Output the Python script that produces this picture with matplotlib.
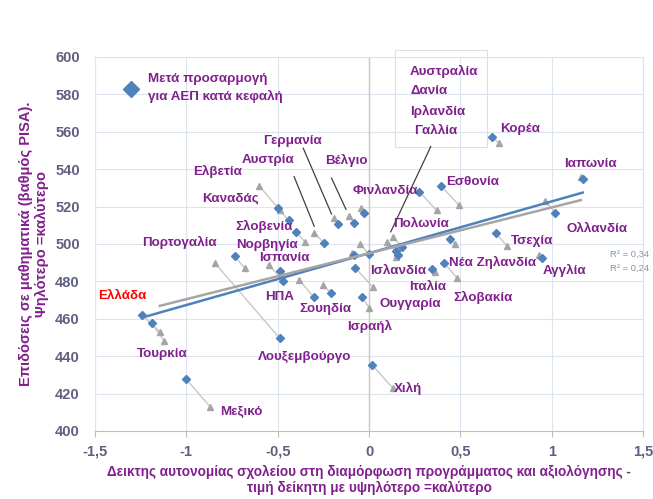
import numpy as np
import matplotlib
matplotlib.use('Agg')
import matplotlib.pyplot as plt

plt.rcParams['font.family'] = ['Liberation Sans', 'DejaVu Sans']

# Χώρες OECD (PISA 2012)
countries = ['Ελβετία', 'Καναδάς', 'Σλοβενία', 'Αυστρία', 'Γερμανία', 'Βέλγιο', 'Φινλανδία',
             'Πολωνία', 'Εσθονία', 'Κορέα', 'Ιαπωνία', 'Ολλανδία', 'Τσεχία', 'Αγγλία',
             'Νέα Ζηλανδία', 'Σλοβακία', 'Ιταλία', 'Ουγγαρία', 'Ισραήλ', 'Σουηδία', 'ΗΠΑ',
             'Ισπανία', 'Νορβηγία', 'Πορτογαλία', 'Λουξεμβούργο', 'Ελλάδα', 'Τουρκία',
             'Μεξικό', 'Χιλή', 'Αυστραλία', 'Δανία', 'Ιρλανδία', 'Γαλλία', 'Ισλανδία']

# αρχικές τιμές (γκρι τρίγωνα)
x_orig = [-0.60, -0.49, -0.35, -0.30, -0.19, -0.11, -0.045,
          0.37, 0.49, 0.71, 1.16, 0.965, 0.755, 0.93,
          0.47, 0.48, 0.36, 0.02, 0.00, -0.25, -0.385,
          -0.48, -0.55, -0.68, -0.845, -1.145, -1.12,
          -0.87, 0.13, 0.13, -0.05, 0.10, -0.095, 0.15]
y_orig = [531, 518, 501, 506, 514, 515, 519,
          518, 521, 554, 536, 523, 499, 494,
          500, 482, 485, 477, 466, 478, 481,
          484, 489, 487, 490, 453, 448,
          413, 423, 504, 500, 501, 495, 493]

# μετά την προσαρμογή για ΑΕΠ (μπλε ρόμβοι)
x_adj = [-0.50, -0.44, -0.40, -0.245, -0.17, -0.08, -0.03,
         0.275, 0.395, 0.675, 1.17, 1.02, 0.695, 0.945,
         0.445, 0.41, 0.345, -0.077, -0.04, -0.21, -0.30,
         -0.485, -0.47, -0.735, -0.49, -1.245, -1.19,
         -1.00, 0.015, 0.18, 0.00, 0.15, -0.08, 0.16]
y_adj = [519.4, 512.8, 506.6, 500.3, 510.5, 511.4, 516.7,
         528.0, 531.0, 557.1, 534.8, 516.7, 505.7, 492.6,
         502.6, 490.0, 486.4, 487.4, 471.7, 473.8, 471.4,
         485.6, 480.3, 493.4, 449.7, 462.2, 457.7,
         427.6, 435.5, 498.5, 494.5, 496.0, 494.0, 494.0]

r2_labels = ['R² = 0,34', 'R² = 0,24']

# θέσεις ετικετών (σε μονάδες αξόνων)
label_pos = {
    'Ελβετία': (-0.83, 539), 'Καναδάς': (-0.76, 524.6), 'Σλοβενία': (-0.575, 509.6),
    'Πορτογαλία': (-1.04, 501), 'Νορβηγία': (-0.56, 499.4), 'Ισπανία': (-0.465, 492.4),
    'ΗΠΑ': (-0.49, 471.5), 'Σουηδία': (-0.24, 465), 'Ισραήλ': (0.005, 456),
    'Ουγγαρία': (0.225, 467.8), 'Ισλανδία': (0.16, 485.5), 'Ιταλία': (0.32, 476.9),
    'Σλοβακία': (0.625, 471.5), 'Νέα Ζηλανδία': (0.675, 490.3), 'Αγγλία': (1.07, 486),
    'Τσεχία': (0.89, 501.5), 'Ολλανδία': (1.25, 508), 'Ιαπωνία': (1.21, 542.8),
    'Κορέα': (0.83, 561.6), 'Εσθονία': (0.565, 533.2), 'Πολωνία': (0.285, 510.7),
    'Φινλανδία': (0.09, 528.4), 'Βέλγιο': (-0.126, 544.4), 'Γερμανία': (-0.42, 555.1),
    'Αυστρία': (-0.55, 544.9), 'Ελλάδα': (-1.35, 472), 'Τουρκία': (-1.13, 441),
    'Λουξεμβούργο': (-0.35, 439.3), 'Μεξικό': (-0.70, 410.3), 'Χιλή': (0.213, 422.8),
}
box_countries = ['Αυστραλία', 'Δανία', 'Ιρλανδία', 'Γαλλία']

purple = '#80208C'
blue = '#4F81BD'
grey = '#A5A5A5'
tick_col = '#5F5F7F'
fs = 9.6

fig = plt.figure(figsize=(6.53, 4.99), dpi=100)
ax = fig.add_axes([0.1455, 0.1363, 0.8392, 0.7495])

# γραμμές σύνδεσης
for xo, yo, xa, ya in zip(x_orig, y_orig, x_adj, y_adj):
    ax.plot([xa, xo], [ya, yo], color='#C8C8C8', lw=1, zorder=2)

ax.plot(x_orig, y_orig, ls='none', marker='^', ms=5, color=grey, zorder=3)
ax.plot(x_adj, y_adj, ls='none', marker='D', ms=4, color=blue, zorder=4)

# γραμμές τάσης
for xs, ys, col in [(x_adj, y_adj, blue), (x_orig, y_orig, grey)]:
    xs = np.array(xs)
    k, b = np.polyfit(xs, ys, 1)
    xx = np.array([xs.min(), xs.max()])
    ax.plot(xx, k * xx + b, color=col, lw=1.8, zorder=5)

ax.text(1.535, 494.5, r2_labels[0], color='#8497B0', fontsize=6.8, ha='right', va='center')
ax.text(1.535, 487.0, r2_labels[1], color='#909090', fontsize=6.8, ha='right', va='center')

# ετικέτες χωρών
for name, (lx, ly) in label_pos.items():
    col = 'red' if name == 'Ελλάδα' else purple
    ax.text(lx, ly, name, color=col, fontsize=fs, fontweight='bold', ha='center', va='center',
            zorder=6)

# πλαίσιο με τις τέσσερις χώρες
ax.add_patch(plt.Rectangle((0.142, 551.9), 0.504, 52.0, fill=False, ec='#E0E0E0', lw=0.8,
                           clip_on=False, zorder=1))
for i, name in enumerate(box_countries):
    ax.text(0.225 + (0.02 if i == 3 else 0), 592.1 - i * 10.5, name, color=purple, fontsize=fs,
            fontweight='bold', ha='left', va='center')

# δείκτες ετικετών
pointers = [((-0.41, 536), (-0.30, 509.5)),
            ((-0.36, 551.2), (-0.205, 516)),
            ((-0.205, 535.2), (-0.126, 518.5)),
            ((0.338, 552.1), (0.119, 506.5))]
for (x0, y0), (x1, y1) in pointers:
    ax.plot([x0, x1], [y0, y1], color='#404040', lw=0.9, zorder=2)

# υπόμνημα
ax.plot([-1.303], [583], ls='none', marker='D', ms=8.5, color=blue, zorder=6)
ax.text(-1.21, 583.3, 'Μετά προσαρμογή\nγια ΑΕΠ κατά κεφαλή', color=purple, fontsize=fs,
        fontweight='bold', ha='left', va='center', linespacing=1.55)

ax.set_xlim(-1.5, 1.5)
ax.set_ylim(400, 600)
ax.set_xticks(np.arange(-1.5, 1.51, 0.5))
ax.set_xticklabels(['-1,5', '-1', '-0,5', '0', '0,5', '1', '1,5'])
ax.set_yticks(np.arange(400, 601, 20))
ax.grid(True, color='#DDE4F0', lw=0.8, zorder=0)
ax.set_axisbelow(True)
ax.axvline(0, color='#C8C8C8', lw=1, zorder=1)

for s in ['top', 'right', 'left']:
    ax.spines[s].set_color('#DDE4F0')
ax.spines['bottom'].set_color('#BFBFBF')
ax.tick_params(axis='x', colors='#BFBFBF', length=4, pad=6, labelcolor=tick_col, labelsize=10.5)
ax.tick_params(axis='y', length=0, pad=11, labelcolor=tick_col, labelsize=10.5)
for lab in ax.get_xticklabels() + ax.get_yticklabels():
    lab.set_fontweight('bold')

ax.set_xlabel('Δεικτης αυτονομίας σχολείου στη διαμόρφωση προγράμματος και αξιολόγησης -\n'
              'τιμή δείκητη με υψηλότερο =καλύτερο', color=purple, fontsize=9.8, fontweight='bold',
              labelpad=4)
ax.set_ylabel('Επιδόσεις σε μαθηματικά (βαθμός PISA).\nΨηλότερο =καλύτερο', color=purple,
              fontsize=10.5, fontweight='bold', labelpad=4)

fig.savefig('out.png', dpi=100)
